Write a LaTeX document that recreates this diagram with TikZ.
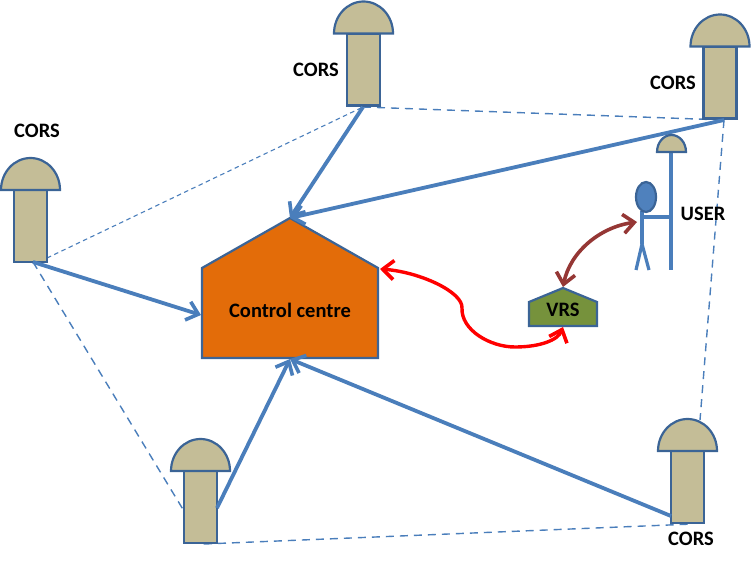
\documentclass[tikz,border=0pt]{standalone}
\usepackage{fontspec}
\setmainfont{Carlito}
\usetikzlibrary{arrows.meta}
\definecolor{linkblue}{HTML}{4A7EBB}
\definecolor{edgeblue}{HTML}{3B6496}
\definecolor{tan}{HTML}{C4BD97}
\definecolor{centreorange}{HTML}{E36C09}
\definecolor{vrsgreen}{HTML}{76923C}
\definecolor{headblue}{HTML}{4F81BD}
\definecolor{linkbrown}{HTML}{953735}
\tikzset{
  open tip/.tip={Straight Barb[length=11pt,width=19pt,line width=3.6pt]},
  body/.style={draw=edgeblue,line width=2.2pt,line join=miter},
  antenna/.style={body,fill=tan},
  baseline link/.style={draw=linkblue,line width=1.4pt,dash pattern=on 8pt off 6pt},
  fine link/.style={draw=linkblue,line width=1.1pt,dash pattern=on 4.5pt off 3.5pt},
  data link/.style={draw=linkblue,line width=3.8pt,-{open tip}},
  figure line/.style={draw=linkblue,line width=3.2pt},
  label/.style={font=\bfseries\fontsize{20.5}{22}\selectfont,text=black,inner sep=0pt},
  % one CORS station: dome above a rectangular mast, placed by the top-left corner of its dome box
  station/.pic={
    \path[antenna] (13,33) rectangle (46,105);
    \path[antenna] (0,33) arc[start angle=180,end angle=0,x radius=29.5,y radius=-32] -- cycle;
  }
}
\begin{document}
\begin{tikzpicture}[x=1pt,y=-1pt]
  \useasboundingbox (0,0) rectangle (751,564);

  % connection points
  \coordinate (top) at (363,107);
  \coordinate (right) at (724,120);
  \coordinate (left) at (33,262);
  \coordinate (leftside) at (47,258);
  \coordinate (bottom) at (204,544);
  \coordinate (bottomside) at (217,508);
  \coordinate (lower) at (671,516);
  \coordinate (lowerbase) at (693,524);
  \coordinate (lowertop) at (700,420);
  \coordinate (roof) at (290,218);
  \coordinate (centreleft) at (201,315);
  \coordinate (centrebase) at (290,359);
  \coordinate (centreright) at (380,269);
  \coordinate (vrsroof) at (563,287);
  \coordinate (vrsbase) at (563,327);
  \coordinate (userhand) at (637,222);

  % baselines between stations
  \draw[fine link] (leftside) -- (top);
  \draw[baseline link] (top) -- (right);
  \draw[baseline link] (right) -- (lowertop);
  \draw[baseline link] (left) -- (bottom);
  \draw[baseline link] (bottom) -- (lowerbase);

  % stations
  \pic at (1,157) {station};
  \pic at (334,0.5) {station};
  \pic at (690.5,13.5) {station};
  \pic at (658,418) {station};
  \pic at (171,438) {station};

  % control centre
  \path[body,fill=centreorange] (202,268) -- (290,218) -- (378,268) -- (378,358) -- (202,358) -- cycle;
  \node[label] (centrelabel) at (290,310) {Control centre};

  % station data links
  \draw[data link] (top) -- (roof);
  \draw[data link] (right) -- (roof);
  \draw[data link] (left) -- (centreleft);
  \draw[data link] (bottomside) -- (centrebase);
  \draw[data link] (lower) -- (centrebase);

  % virtual reference station
  \path[body,fill=vrsgreen] (529,302) -- (563,288) -- (597,302) -- (597,326) -- (529,326) -- cycle;
  \node[label] (vrslabel) at (563,310) {VRS};

  % user with rover pole
  \draw[figure line] (671,153) -- (671,270);
  \path[body,fill=tan] (657,152) arc[start angle=180,end angle=0,x radius=14.5,y radius=-17] -- cycle;
  \draw[figure line] (642,211) -- (642,244);
  \draw[figure line] (642,244) -- (636,270);
  \draw[figure line] (642,244) -- (649,270);
  \draw[figure line] (642,217) -- (671,217);
  \path[body,fill=headblue] (646,197) ellipse[x radius=10,y radius=15];
  \node[label] (userlabel) at (703,214) {USER};

  % corrections exchanged with the VRS
  \draw[draw=red,line width=3.4pt,{open tip}-{open tip}]
    (centreright) .. controls (420,272) and (463,292) .. (462,308)
    .. controls (461,330) and (490,347) .. (515,347)
    .. controls (540,347) and (558,340) .. (vrsbase);
  \draw[draw=linkbrown,line width=3.6pt,{open tip}-{open tip}]
    (vrsroof) .. controls (570,252) and (600,227) .. (userhand);

  % station labels
  \node[label] (corsleft) at (37,131) {CORS};
  \node[label] (corstop) at (316,70) {CORS};
  \node[label] (corsright) at (673,83) {CORS};
  \node[label] (corslower) at (691,539) {CORS};
\end{tikzpicture}
\end{document}
